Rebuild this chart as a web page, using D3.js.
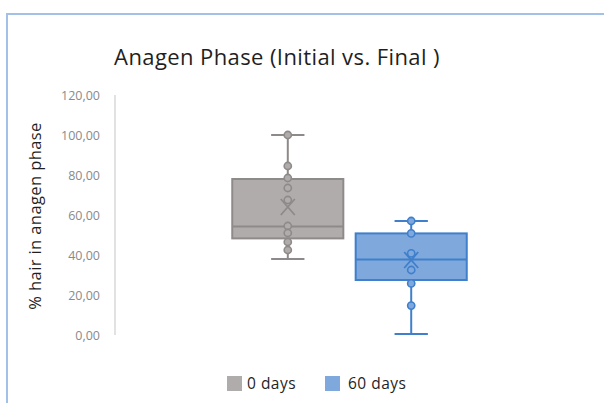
<!DOCTYPE html>
<html>
	<head>
		<style>
			body, html { margin: 0; padding: 0; background: #fff; }
		</style>
	</head>
	<body>
		<svg id="svg" width="604" height="403"></svg>

		<script src="https://d3js.org/d3.v7.min.js"></script>
		<script>
			// Box stats
			const groups = ['0 days', '60 days']
			const whiskerMin = [38, 0.5]
			const q1 = [48.3, 27.5]
			const median = [54.2, 37.8]
			const q3 = [78, 50.8]
			const whiskerMax = [100, 57]
			const mean = [64, 37.5]
			// inner points per group
			const points0 = [100, 84.5, 78.5, 73.5, 67.5, 54.5, 51, 46.5, 42.5]
			const points60 = [57, 50.8, 40.8, 32.5, 25.8, 14.7]
			const yTicks = [0, 20, 40, 60, 80, 100, 120]

			const fills = ['#b1acac', '#7fa8dd']
			const strokes = ['#8e8a8a', '#3f7fcb']

			const svg = d3.select('#svg')

			// frame
			svg.append('path')
				.attr('d', 'M7,403 V14 H604')
				.attr('fill', 'none')
				.attr('stroke', '#a3c1e8')
				.attr('stroke-width', 2)

			// title
			svg.append('text')
				.attr('x', 277)
				.attr('y', 65)
				.attr('text-anchor', 'middle')
				.attr('font-family', 'Open Sans')
				.attr('font-size', 22)
				.attr('letter-spacing', 0.4)
				.attr('fill', '#1f1f1f')
				.text('Anagen Phase (Initial vs. Final )')

			const y = d3.scaleLinear().domain([0, 120]).range([335, 95])
			const x = d3.scaleBand().domain(groups).range([115, 584])
				.paddingInner(0.1)
				.paddingOuter(0.95)

			// y axis
			const yAxis = svg.append('g')
				.attr('transform', 'translate(115,0)')
				.call(d3.axisLeft(y).tickValues(yTicks).tickSize(0).tickPadding(15)
					.tickFormat(d => d3.format('.2f')(d).replace('.', ',')))
			yAxis.select('.domain').attr('stroke', '#d9d9d9').attr('stroke-width', 1.5)
				.attr('d', `M0,${y(120)}V${y(0)}`)
			yAxis.selectAll('text')
				.attr('font-family', 'Open Sans')
				.attr('font-size', 12.5)
				.attr('fill', '#8a8a8a')

			svg.append('text')
				.attr('transform', `translate(41,${(y(0) + y(120)) / 2 + 1}) rotate(-90)`)
				.attr('text-anchor', 'middle')
				.attr('font-family', 'Open Sans')
				.attr('font-size', 16.5)
				.attr('letter-spacing', 0.4)
				.attr('fill', '#1f1f1f')
				.text('% hair in anagen phase')

			const pts = [points0, points60]

			groups.forEach((g, i) => {
				const bx = x(g)
				const bw = x.bandwidth()
				const cx = bx + bw / 2
				const capW = bw * 0.3
				const grp = svg.append('g')

				// whiskers
				grp.append('line')
					.attr('x1', cx).attr('x2', cx)
					.attr('y1', y(whiskerMax[i])).attr('y2', y(whiskerMin[i]))
					.attr('stroke', strokes[i]).attr('stroke-width', 2)
				grp.selectAll('.cap')
					.data([whiskerMax[i], whiskerMin[i]])
					.enter()
					.append('line')
					.attr('x1', cx - capW / 2).attr('x2', cx + capW / 2)
					.attr('y1', d => y(d)).attr('y2', d => y(d))
					.attr('stroke', strokes[i]).attr('stroke-width', 2)

				// box
				grp.append('rect')
					.attr('x', bx).attr('y', y(q3[i]))
					.attr('width', bw).attr('height', y(q1[i]) - y(q3[i]))
					.attr('fill', fills[i])
					.attr('stroke', strokes[i]).attr('stroke-width', 2)
				grp.append('line')
					.attr('x1', bx).attr('x2', bx + bw)
					.attr('y1', y(median[i])).attr('y2', y(median[i]))
					.attr('stroke', strokes[i]).attr('stroke-width', 2)

				// mean marker
				const m = y(mean[i])
				grp.append('path')
					.attr('d', `M${cx - 7},${m - 8}L${cx + 7},${m + 8}M${cx + 7},${m - 8}L${cx - 7},${m + 8}`)
					.attr('stroke', strokes[i]).attr('stroke-width', 1.8)

				// points
				grp.selectAll('circle')
					.data(pts[i])
					.enter()
					.append('circle')
					.attr('cx', cx).attr('cy', d => y(d))
					.attr('r', 3.6)
					.attr('fill', fills[i])
					.attr('stroke', strokes[i]).attr('stroke-width', 1.6)
			})

			// legend
			const legX = [227, 325]
			const legTextX = [247, 348]
			const leg = svg.append('g')
			groups.forEach((g, i) => {
				leg.append('rect')
					.attr('x', legX[i]).attr('y', 376)
					.attr('width', 15).attr('height', 15)
					.attr('fill', fills[i])
				leg.append('text')
					.attr('x', legTextX[i]).attr('y', 389)
					.attr('font-family', 'Open Sans')
					.attr('font-size', 15.5)
					.attr('letter-spacing', 0.5)
					.attr('fill', '#1f1f1f')
					.text(g)
			})
		</script>
	</body>
</html>
